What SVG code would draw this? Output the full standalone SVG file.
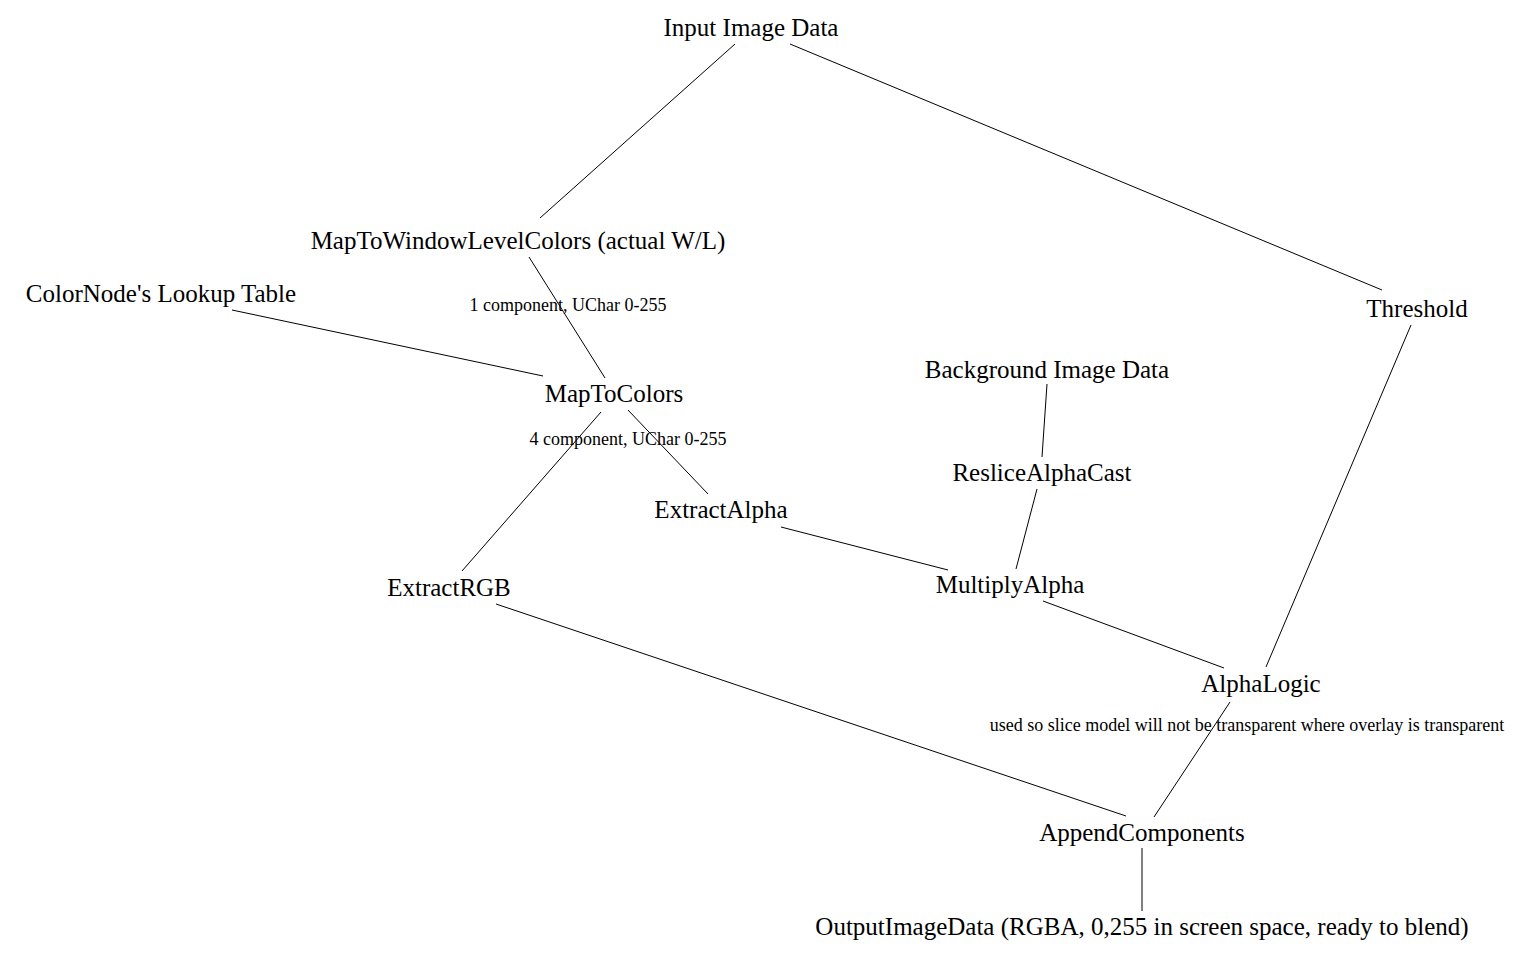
<svg xmlns="http://www.w3.org/2000/svg" width="1520" height="953" viewBox="0 0 1520 953">
<style>
.n{font-family:"Liberation Serif","Times New Roman",serif;font-size:25px;fill:#000;text-anchor:middle}
.l{font-family:"Liberation Serif","Times New Roman",serif;font-size:18px;fill:#000;text-anchor:middle}
#edges line{stroke:#000;stroke-width:1}
</style>
<rect width="1520" height="953" fill="#fff"/>
<g id="edges">
<line x1="735" y1="44" x2="540" y2="218"/>
<line x1="790" y1="44" x2="1382" y2="290"/>
<line x1="529" y1="257" x2="605" y2="378"/>
<line x1="232" y1="310" x2="543" y2="376"/>
<line x1="601" y1="412" x2="462" y2="571"/>
<line x1="628" y1="410" x2="708" y2="494"/>
<line x1="1047" y1="384" x2="1042" y2="457"/>
<line x1="1037" y1="489" x2="1016" y2="569"/>
<line x1="781" y1="527" x2="948" y2="570"/>
<line x1="1043" y1="601" x2="1224" y2="668"/>
<line x1="1411" y1="325" x2="1266" y2="667"/>
<line x1="1230" y1="702" x2="1154" y2="817"/>
<line x1="496" y1="604" x2="1126" y2="816"/>
<line x1="1142" y1="848" x2="1142" y2="911"/>
</g>
<g id="input"><text class="n" x="751" y="36">Input Image Data</text></g>
<g id="mwl"><text class="n" x="518" y="249">MapToWindowLevelColors (actual W/L)</text></g>
<g id="lut"><text class="n" x="161" y="302">ColorNode's Lookup Table</text></g>
<g id="threshold"><text class="n" x="1417" y="317">Threshold</text></g>
<g id="background"><text class="n" x="1047" y="378">Background Image Data</text></g>
<g id="maptocolors"><text class="n" x="614" y="402">MapToColors</text></g>
<g id="reslice"><text class="n" x="1042" y="481">ResliceAlphaCast</text></g>
<g id="extractalpha"><text class="n" x="721" y="518">ExtractAlpha</text></g>
<g id="extractrgb"><text class="n" x="449" y="596">ExtractRGB</text></g>
<g id="multiplyalpha"><text class="n" x="1010" y="593">MultiplyAlpha</text></g>
<g id="alphalogic"><text class="n" x="1261" y="692">AlphaLogic</text></g>
<g id="append"><text class="n" x="1142" y="841">AppendComponents</text></g>
<g id="output"><text class="n" x="1142" y="935">OutputImageData (RGBA, 0,255 in screen space, ready to blend)</text></g>
<g id="labels">
<text class="l" x="568" y="311">1 component, UChar 0-255</text>
<text class="l" x="628" y="445">4 component, UChar 0-255</text>
<text class="l" x="1247" y="731">used so slice model will not be transparent where overlay is transparent</text>
</g>
</svg>
